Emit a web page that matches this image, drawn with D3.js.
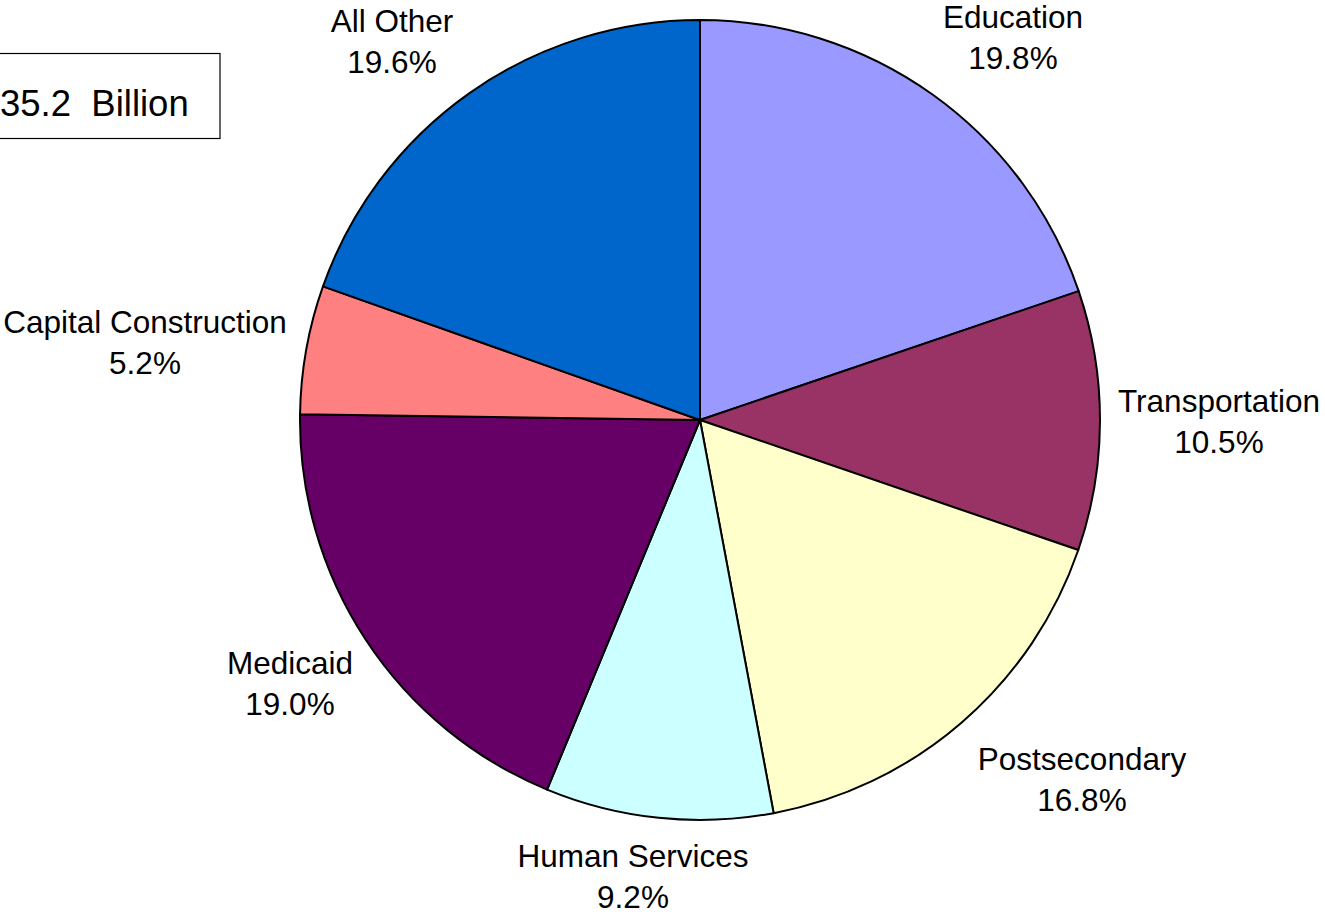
<!DOCTYPE html>
<html>
<head>
<meta charset="utf-8">
<script src="https://cdn.jsdelivr.net/npm/d3@7"></script>
<style>
  html, body { margin: 0; padding: 0; background: #fff; }
  svg { display: block; }
  text { font-family: "Liberation Sans", Arial, sans-serif; fill: #000; }
</style>
</head>
<body>
<svg id="chart" width="1325" height="914"></svg>
<script>
const categories = ["Education", "Transportation", "Postsecondary", "Human Services", "Medicaid", "Capital Construction", "All Other"];
const values = [19.8, 10.5, 16.8, 9.2, 19.0, 5.2, 19.6];
const colors = ["#9999FF", "#993366", "#FFFFCC", "#CCFFFF", "#660066", "#FF8080", "#0066CC"];
const totalLabel = "35.2  Billion";
// label anchor positions (center x, first baseline y)
const labelPos = [[1013, 28], [1219, 412], [1082, 770], [633, 867], [290, 674], [145, 333], [392, 32]];

const svg = d3.select("#chart");
const cx = 700, cy = 420, r = 400;

const data = categories.map((c, i) => ({ name: c, value: values[i], color: colors[i], pos: labelPos[i] }));

const pie = d3.pie().value(d => d.value).sort(null);
const arc = d3.arc().innerRadius(0).outerRadius(r);

const g = svg.append("g").attr("transform", `translate(${cx},${cy})`);
g.selectAll("path")
  .data(pie(data))
  .join("path")
  .attr("d", arc)
  .attr("fill", d => d.data.color)
  .attr("stroke", "#000")
  .attr("stroke-width", 2)
  .attr("stroke-linejoin", "round");

const labels = svg.append("g");
data.forEach(d => {
  const t = labels.append("text")
    .attr("text-anchor", "middle")
    .style("font-size", "31.5px");
  t.append("tspan").attr("x", d.pos[0]).attr("y", d.pos[1]).text(d.name);
  t.append("tspan").attr("x", d.pos[0]).attr("y", d.pos[1] + 41).text(d.value.toFixed(1) + "%");
});

// total box
svg.append("rect")
  .attr("x", -20).attr("y", 53.5)
  .attr("width", 240).attr("height", 85)
  .attr("fill", "#fff").attr("stroke", "#000").attr("stroke-width", 1.2);
svg.append("text")
  .attr("x", 0).attr("y", 116)
  .attr("xml:space", "preserve")
  .style("white-space", "pre")
  .style("font-size", "36.5px")
  .text(totalLabel);
</script>
</body>
</html>
